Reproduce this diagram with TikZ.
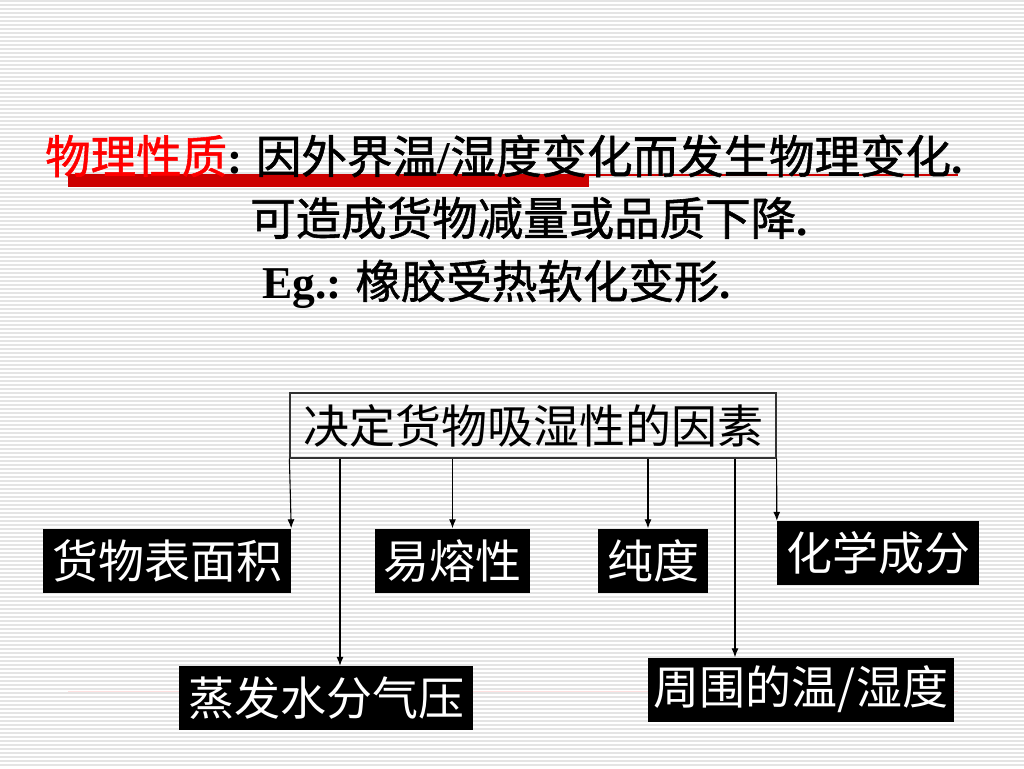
\documentclass[tikz,border=0pt]{standalone}
\usepackage{fontspec}
\setmainfont{Liberation Serif}
\newfontfamily\cjk{Noto Sans CJK SC}
\newfontfamily\cjkheavy[FakeBold=1.2]{Noto Sans CJK SC}
\usepackage{tikz}
\usetikzlibrary{arrows.meta}
\usepackage{xcolor}
\definecolor{stripe}{RGB}{228,228,228}
\definecolor{tred}{RGB}{204,0,0}
\newcommand{\lat}[1]{{\rmfamily\bfseries #1}}
\tikzset{
  txt/.style={inner sep=0pt, font=\fontsize{46}{52}\selectfont\cjk},
  headtxt/.style={inner sep=0pt, anchor=west, font=\fontsize{45.5}{52}\selectfont\cjkheavy},
  factorbox/.style={txt, draw=black!80, line width=1.2pt, minimum width=486, minimum height=65},
  blackbox/.style={txt, fill=black, text=white, minimum height=64},
  arr/.style={-{Latex[length=9,width=7]}, line width=1.1pt}
}

\begin{document}
\begin{tikzpicture}[x=1pt,y=-1pt]
\useasboundingbox (0,0) rectangle (1024,768);
\fill[white] (0,0) rectangle (1024,768);
\foreach \y in {1,5,...,767}
  \draw[stripe, line width=1.5pt] (0,\y) -- (1024,\y);

% heading
\draw[tred, line width=1.3pt] (68,175) -- (958,175);
\fill[tred] (68,176) rectangle (589,187);
\draw[red!12, line width=1pt] (68,691) -- (958,691);

\node[headtxt] (title) at (45,156) {{\color{red}物理性质}\lat{:} 因外界温\lat{/}湿度变化而发生物理变化\lat{.}};
\node[headtxt] (line2) at (250,218) {可造成货物减量或品质下降\lat{.}};
\node[headtxt] (line3) at (262,284) {\lat{Eg.:} 橡胶受热软化变形\lat{.}};

% factors
\node[factorbox] (factor) at (533,425.5) {决定货物吸湿性的因素};

\node[blackbox, minimum width=248] (area) at (167,560.5) {货物表面积};
\node[blackbox, minimum width=155] (melt) at (452.5,560.5) {易熔性};
\node[blackbox, minimum width=110] (pure) at (653,560.5) {纯度};
\node[blackbox, minimum width=202] (chem) at (878,553) {化学成分};
\node[blackbox, minimum width=306] (env) at (801,689.5) {周围的温/湿度};
\node[blackbox, minimum width=294] (vap) at (326,698) {蒸发水分气压};

\draw[arr] (factor.south west) -- (area.north east);
\draw[arr] ([xshift=14]vap.north |- factor.south) -- ([xshift=14]vap.north);
\draw[arr] (melt.north |- factor.south) -- (melt.north);
\draw[arr] ([xshift=-5]pure.north |- factor.south) -- ([xshift=-5]pure.north);
\draw[arr] ([xshift=-66]env.north |- factor.south) -- ([xshift=-66]env.north);
\draw[arr] (factor.south east) -- (chem.north west);
\end{tikzpicture}
\end{document}
